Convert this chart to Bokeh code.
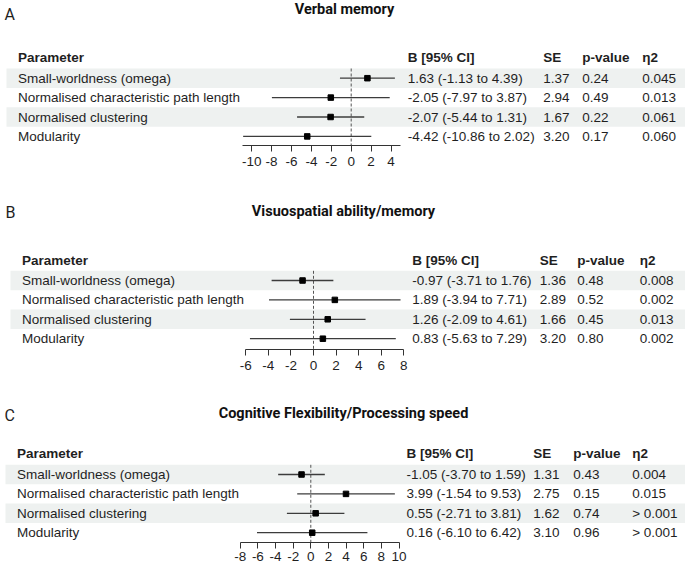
from bokeh.plotting import figure
from bokeh.layouts import column
from bokeh.models import Range1d, FixedTicker, ColumnDataSource
from bokeh.core.properties import value
from bokeh.embed import file_html
from bokeh.resources import INLINE

# ---------------- data ----------------
params = ["Small-worldness (omega)", "Normalised characteristic path length",
          "Normalised clustering", "Modularity"]

titles = ["Verbal memory", "Visuospatial ability/memory",
          "Cognitive Flexibility/Processing speed"]
letters = ["A", "B", "C"]

est_a = [1.63, -2.05, -2.07, -4.42]
lo_a = [-1.13, -7.97, -5.44, -10.86]
hi_a = [4.39, 3.87, 1.31, 2.02]
se_a = [1.37, 2.94, 1.67, 3.20]
p_a = [0.24, 0.49, 0.22, 0.17]
eta_a = ["0.045", "0.013", "0.061", "0.060"]
ticks_a = [-10, -8, -6, -4, -2, 0, 2, 4]

est_b = [-0.97, 1.89, 1.26, 0.83]
lo_b = [-3.71, -3.94, -2.09, -5.63]
hi_b = [1.76, 7.71, 4.61, 7.29]
se_b = [1.36, 2.89, 1.66, 3.20]
p_b = [0.48, 0.52, 0.45, 0.80]
eta_b = ["0.008", "0.002", "0.013", "0.002"]
ticks_b = [-6, -4, -2, 0, 2, 4, 6, 8]

est_c = [-1.05, 3.99, 0.55, 0.16]
lo_c = [-3.70, -1.54, -2.71, -6.10]
hi_c = [1.59, 9.53, 3.81, 6.42]
se_c = [1.31, 2.75, 1.62, 3.10]
p_c = [0.43, 0.15, 0.74, 0.96]
eta_c = ["0.004", "0.015", "> 0.001", "> 0.001"]
ticks_c = [-8, -6, -4, -2, 0, 2, 4, 6, 8, 10]

headers = ["Parameter", "B [95% CI]", "SE", "p-value", "η2"]

# ---------------- style / layout ----------------
W = 685
FONT = value("Liberation Sans")
TITLE_FONT = value("Roboto")
TXT = "#1f1f1f"
BAND = "#eef1f0"
LINE = "#3c3c3c"
FS = "13.5px"
DY = 19.4

# per-panel geometry (pixels inside each figure)
geom = [
    dict(height=196, frame=145, zero=350.7, ppu=9.95, bounds=(-10.9, 5.0),
         letter_x=4, letter_y=4, title_y=0, title_x=344, header_y=57,
         row0=77.7, label_x=17.5, band_x=6, standoff=5,
         cols=[407.3, 542.7, 581.7, 641.7]),
    dict(height=194, frame=153, zero=313.0, ppu=11.29, bounds=(-6, 8),
         letter_x=5, letter_y=6.3, title_y=6.3, title_x=343, header_y=64,
         row0=84.0, label_x=21.5, band_x=10, standoff=5,
         cols=[411.7, 539.3, 576.7, 639.3]),
    dict(height=176, frame=152, zero=310.3, ppu=8.82, bounds=(-8, 10),
         letter_x=4, letter_y=15.3, title_y=14, title_x=343, header_y=63,
         row0=84.0, label_x=16.5, band_x=5, standoff=3,
         cols=[406.0, 532.7, 572.7, 631.7]),
]


def make_panel(i, est, lo, hi, se, pv, eta, ticks):
    g = geom[i]
    fh = g["frame"]
    x0 = -g["zero"] / g["ppu"]
    x1 = (W - g["zero"]) / g["ppu"]
    p = figure(width=W, height=g["height"], x_range=Range1d(x0, x1),
               y_range=Range1d(fh, 0), output_backend="svg",
               toolbar_location=None, min_border_left=0, min_border_right=0,
               min_border_top=0, min_border_bottom=g["height"] - fh,
               y_axis_location=None)
    p.extra_x_ranges = {"px": Range1d(0, W)}
    p.xgrid.visible = False
    p.ygrid.visible = False
    p.outline_line_color = None
    p.background_fill_color = "white"
    p.border_fill_color = "white"

    ys = [g["row0"] + k * DY for k in range(len(params))]

    # shaded bands (rows 1 and 3)
    band_rows = [k for k in range(len(params)) if k % 2 == 0]
    p.quad(left=[g["band_x"]] * len(band_rows), right=[W] * len(band_rows),
           top=[ys[k] - DY / 2 for k in band_rows],
           bottom=[ys[k] + DY / 2 for k in band_rows],
           x_range_name="px", fill_color=BAND, line_color=None)

    # zero reference line
    p.segment(x0=[0], x1=[0], y0=[ys[0] - DY / 2], y1=[fh],
              line_color="#555555", line_width=1, line_dash="3 2")

    # CIs and point estimates
    src = ColumnDataSource(dict(est=est, lo=lo, hi=hi, y=ys))
    p.segment(x0="lo", x1="hi", y0="y", y1="y", source=src,
              line_color=LINE, line_width=1.3)
    p.scatter(x="est", y="y", source=src, marker="square", size=5.5,
              fill_color="black", line_color="black")

    # letter and title
    p.text(x=[g["letter_x"]], y=[g["letter_y"]], text=[letters[i]],
           x_range_name="px", text_font=TITLE_FONT, text_font_size="16px",
           text_color=TXT, text_baseline="top", text_align="left")
    p.text(x=[g["title_x"]], y=[g["title_y"]], text=[titles[i]],
           x_range_name="px", text_font=TITLE_FONT, text_font_size="14.5px",
           text_font_style="bold", text_color="#111111",
           text_baseline="top", text_align="center")

    # headers
    hx = [g["label_x"]] + g["cols"]
    p.text(x=hx, y=[g["header_y"]] * len(hx), text=headers, x_range_name="px",
           text_font=FONT, text_font_size=FS, text_font_style="bold",
           text_color=TXT, text_baseline="middle", text_align="left")

    # table body
    ci_txt = [f"{e:.2f} ({l:.2f} to {h:.2f})" for e, l, h in zip(est, lo, hi)]
    se_txt = [f"{s:.2f}" for s in se]
    p_txt = [f"{v:.2f}" for v in pv]
    cols_text = [params, ci_txt, se_txt, p_txt, eta]
    for cx, texts in zip(hx, cols_text):
        p.text(x=[cx] * len(texts), y=ys, text=texts, x_range_name="px",
               text_font=FONT, text_font_size=FS, text_color=TXT,
               text_baseline="middle", text_align="left")

    # axis
    ax = p.xaxis[0]
    ax.ticker = FixedTicker(ticks=ticks)
    ax.major_label_overrides = {t: str(t) for t in ticks}
    ax.bounds = g["bounds"]
    ax.axis_line_color = "#333333"
    ax.axis_line_width = 1
    ax.major_tick_line_color = "#333333"
    ax.major_tick_out = 6
    ax.major_tick_in = 0
    ax.minor_tick_out = 0
    ax.minor_tick_in = 0
    ax.major_label_standoff = g["standoff"]
    ax.major_label_text_font = "Liberation Sans"
    ax.major_label_text_font_size = "13.5px"
    ax.major_label_text_color = TXT
    return p


pa = make_panel(0, est_a, lo_a, hi_a, se_a, p_a, eta_a, ticks_a)
pb = make_panel(1, est_b, lo_b, hi_b, se_b, p_b, eta_b, ticks_b)
pc = make_panel(2, est_c, lo_c, hi_c, se_c, p_c, eta_c, ticks_c)

layout = column(pa, pb, pc, spacing=0)
open("out.html", "w").write(file_html(layout, INLINE))
